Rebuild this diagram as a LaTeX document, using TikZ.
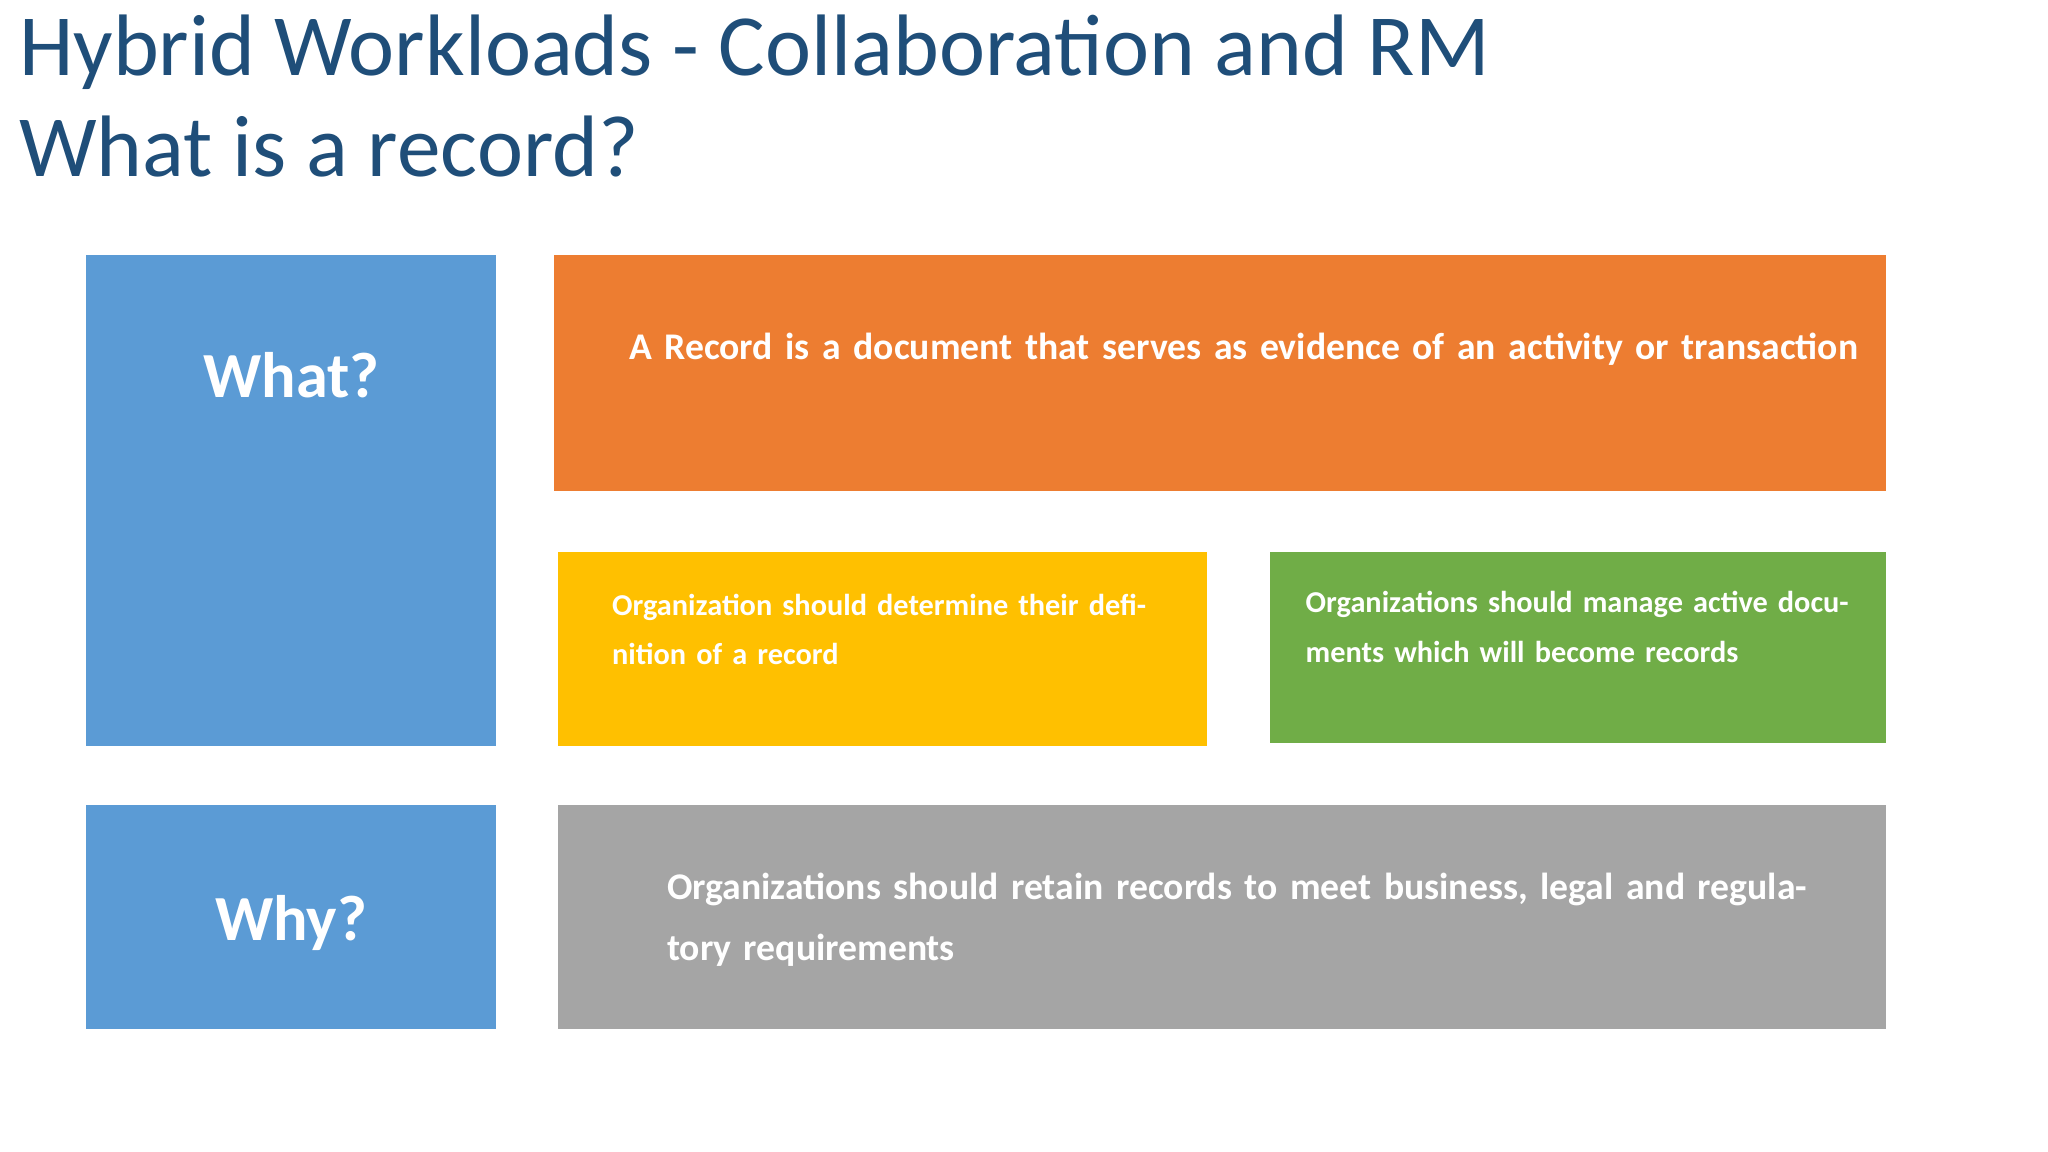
\documentclass[tikz,border=0pt]{standalone}
\usepackage{fontspec}
\setmainfont{Carlito}
\definecolor{tblue}{HTML}{1F4E79}
\definecolor{bblue}{HTML}{5B9BD5}
\definecolor{borange}{HTML}{ED7D31}
\definecolor{byellow}{HTML}{FFC000}
\definecolor{bgreen}{HTML}{70AD47}
\definecolor{bgray}{HTML}{A5A5A5}
\begin{document}
\begin{tikzpicture}[x=0.01cm,y=-0.01cm,
  box/.style={inner sep=0,outer sep=0},
  txt/.style={white,font=\bfseries,align=left,anchor=north west,inner sep=0}]
\useasboundingbox (0,0) rectangle (1568,882);
\fill[white] (0,0) rectangle (1568,882);
\node[anchor=base west,inner sep=0,text=tblue,font=\fontsize{19}{23}\selectfont] (t1) at (14,58) {Hybrid Workloads - Collaboration and RM};
\node[anchor=base west,inner sep=0,text=tblue,font=\fontsize{19}{23}\selectfont] (t2) at (14,135) {What is a record?};
\fill[bblue] (66,195) rectangle (380,571);
\fill[borange] (424,195) rectangle (1444,376);
\fill[byellow] (427,423) rectangle (924,571);
\fill[bgreen] (972,423) rectangle (1444,569);
\fill[bblue] (66,616) rectangle (380,788);
\fill[bgray] (427,616) rectangle (1444,788);
\node[white,font=\fontsize{14}{16}\selectfont\bfseries] (what) at (223,287) {What?};
\node[white,font=\fontsize{14}{16}\selectfont\bfseries] (why) at (223,707) {Why?};
\node[txt,font=\fontsize{8.2}{13.3}\selectfont\bfseries,text width=9.5cm] (o) at (481,254) {A Record is a document that serves as evidence of an activity or transaction};
\node[txt,font=\fontsize{6.6}{10.8}\selectfont\bfseries,text width=4.2cm] (y) at (468,454) {Organization should determine their definition of a record};
\node[txt,font=\fontsize{6.6}{10.8}\selectfont\bfseries,text width=4.4cm] (g) at (999,452) {Organizations should manage active documents which will become records};
\node[txt,font=\fontsize{8.2}{13.3}\selectfont\bfseries,text width=8.8cm] (r) at (510,668) {Organizations should retain records to meet business, legal and regulatory requirements};
\end{tikzpicture}
\end{document}
